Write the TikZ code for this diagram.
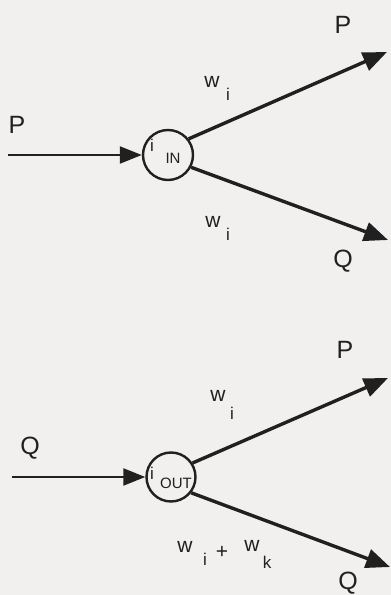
\documentclass[tikz,border=0pt]{standalone}
\usepackage{fontspec}
\setmainfont{Liberation Sans}
\usetikzlibrary{arrows.meta}
\definecolor{paper}{RGB}{241,240,238}
\definecolor{ink}{RGB}{32,32,32}
\begin{document}
\begin{tikzpicture}[x=1pt,y=1pt,
  nd/.style={circle,draw=ink,line width=2.4pt,minimum size=50pt,inner sep=0pt},
  inarr/.style={draw=ink,line width=2.2pt,-{Triangle[length=22pt,width=17pt]}},
  outarr/.style={draw=ink,line width=3.4pt,-{Triangle[length=24pt,width=19pt]}},
  big/.style={text=ink,font=\fontsize{25}{25}\selectfont,inner sep=0pt},
  wlab/.style={text=ink,font=\fontsize{21}{21}\selectfont,inner sep=0pt},
  sub/.style={text=ink,font=\fontsize{17}{17}\selectfont,inner sep=0pt},
  tiny/.style={text=ink,font=\fontsize{15}{15}\selectfont,inner sep=0pt}]
\fill[paper] (0,0) rectangle (391,595);
\clip (0,0) rectangle (391,595);
\useasboundingbox (0,0) rectangle (391,595);
% top
\node[nd] (cin) at (168,440) {};
\node[sub] (iin) at (152,450) {i};
\node[tiny] (inl) at (173,437) {IN};
\coordinate (pin) at (8,440);
\coordinate (tp1) at (387,543);
\coordinate (tq1) at (388,355);
\draw[inarr] (pin) -- (cin.west);
\draw[outarr] (cin.38) -- (tp1);
\draw[outarr] (cin.-28) -- (tq1);
\node[big] (lp0) at (17,470) {P};
\node[big] (lp1) at (343,570) {P};
\node[big] (lq1) at (343,334) {Q};
\node[wlab] (w1) at (212,513) {w};
\node[sub] (i1) at (228,501) {i};
\node[wlab] (w2) at (213,373) {w};
\node[sub] (i2) at (228,361) {i};
% bottom
\node[nd,minimum size=49pt] (cout) at (171,118) {};
\node[sub] (iout) at (152,122) {i};
\node[tiny] (outl) at (176,112) {OUT};
\coordinate (qin) at (12,118);
\coordinate (tp2) at (388,217);
\coordinate (tq2) at (390,28);
\draw[inarr] (qin) -- (cout.west);
\draw[outarr] (cout.33) -- (tp2);
\draw[outarr] (cout.-38) -- (tq2);
\node[big] (lq0) at (30,147) {Q};
\node[big] (lp2) at (345,245) {P};
\node[big] (lq2) at (348,12) {Q};
\node[wlab] (w3) at (218,199) {w};
\node[sub] (i3) at (232,182) {i};
\node[wlab] (w4) at (185,48) {w};
\node[sub] (i4) at (205,36) {i};
\node[wlab] (pl) at (222,43) {+};
\node[wlab] (w5) at (252,49) {w};
\node[sub] (k5) at (267,33) {k};
\end{tikzpicture}
\end{document}
